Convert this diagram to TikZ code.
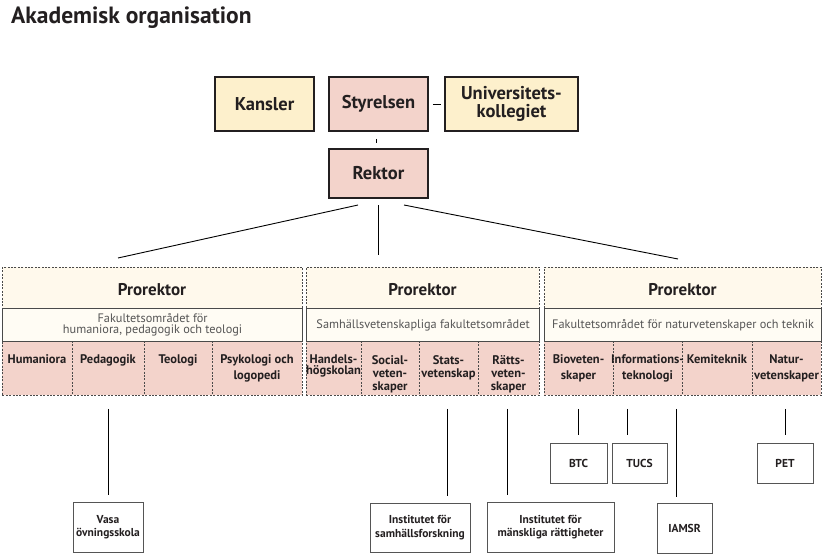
\documentclass[tikz,border=0pt]{standalone}
\usepackage{fontspec}
\setmainfont{PT Sans}
\definecolor{cream}{HTML}{FDF0CC}
\definecolor{rose}{HTML}{F3D3CB}
\definecolor{palecream}{HTML}{FFF9EC}
\definecolor{innerfill}{HTML}{FFFCF4}
\definecolor{dashgray}{HTML}{4A4A4A}
\definecolor{subgray}{HTML}{555555}
\definecolor{inkblack}{HTML}{231F20}
\begin{document}
\begin{tikzpicture}[x=1pt,y=-1pt,
  topbox/.style={draw=inkblack, line width=1.8pt, inner sep=0pt, align=center,
    text=inkblack, font=\fontsize{18.5}{17.5}\selectfont\bfseries},
  secbox/.style={draw=dashgray, line width=0.9pt, dash pattern=on 2pt off 1.4pt, inner sep=0pt, anchor=north west},
  divline/.style={draw=dashgray, line width=0.9pt, dash pattern=on 2pt off 1.4pt},
  innerbox/.style={draw=dashgray, line width=1.2pt, fill=innerfill, inner sep=0pt, anchor=north west,
    align=center, text=subgray, font=\fontsize{12.3}{12}\selectfont},
  pro/.style={font=\fontsize{17}{16}\selectfont\bfseries, text=inkblack},
  celltxt/.style={anchor=north, inner sep=0pt, align=center, text=inkblack},
  cellA/.style={celltxt, font=\fontsize{12.5}{16.5}\selectfont\bfseries},
  cellB/.style={celltxt, font=\fontsize{12.5}{13.3}\selectfont\bfseries},
  cellC/.style={celltxt, font=\fontsize{12.5}{11}\selectfont\bfseries},
  smallbox/.style={draw=subgray, line width=1pt, fill=white, inner sep=0pt, align=center,
    text=inkblack, font=\fontsize{11.5}{13.5}\selectfont\bfseries},
  conn/.style={draw=black, line width=0.9pt},
]
\useasboundingbox (0,0) rectangle (832,556);

% title
\node[anchor=base west, inner sep=0pt, font=\fontsize{23.5}{23.5}\selectfont\bfseries, text=inkblack] (title) at (11,24) {Akademisk organisation};

% top boxes
\node[topbox, fill=cream, minimum width=99pt, minimum height=54pt] (kansler) at (264.5,104) {Kansler};
\node[topbox, fill=rose, minimum width=99pt, minimum height=54pt] (styr) at (378.5,104) {Styrelsen};
\node[topbox, fill=cream, minimum width=133pt, minimum height=54pt] (univ) at (511.5,104) {Universitets-\\kollegiet};
\node[topbox, fill=rose, minimum width=99pt, minimum height=49pt] (rektor) at (378.5,173.5) {Rektor};

\draw[conn, shorten <=4pt, shorten >=3pt] (styr.east) -- (univ.west);
\draw[conn, shorten <=7pt, shorten >=5pt] ([xshift=-2pt]styr.south) -- ([xshift=-2pt]rektor.north);

% section backgrounds
\fill[palecream] (2,267) rectangle (302,308);
\fill[rose] (2,341) rectangle (302,395);
\fill[palecream] (306,267) rectangle (539,308);
\fill[rose] (306,341) rectangle (539,395);
\fill[palecream] (544,267) rectangle (821,308);
\fill[rose] (544,341) rectangle (821,395);

% inner faculty boxes
\node[innerbox, minimum width=300pt, minimum height=33pt] (fak1) at (2,308) {Fakultetsområdet för\\[-1pt]humaniora, pedagogik och teologi};
\node[innerbox, minimum width=233pt, minimum height=33pt] (fak2) at (306,308) {Samhällsvetenskapliga fakultetsområdet};
\node[innerbox, minimum width=277pt, minimum height=33pt] (fak3) at (544,308) {Fakultetsområdet för naturvetenskaper och teknik};

% dashed section outlines
\node[secbox, minimum width=300pt, minimum height=128pt] (sec1) at (2,267) {};
\node[secbox, minimum width=233pt, minimum height=128pt] (sec2) at (306,267) {};
\node[secbox, minimum width=277pt, minimum height=128pt] (sec3) at (544,267) {};

% dividers
\foreach \x in {72,144,212,361,419,478,613,682,752}
  \draw[divline] (\x,341) -- (\x,395);

% prorektor labels
\node[pro] (pro1) at (152,290) {Prorektor};
\node[pro] (pro2) at (422.5,290) {Prorektor};
\node[pro] (pro3) at (682.5,290) {Prorektor};

% cell labels
\node[cellA] (hum) at (37,354) {Humaniora};
\node[cellA] (ped) at (108,354) {Pedagogik};
\node[cellA] (teo) at (178,354) {Teologi};
\node[cellA] (psy) at (257,354) {Psykologi och\\logopedi};
\node[cellC] (han) at (333.5,355) {Handels-\\högskolan};
\node[cellB] (soc) at (390,355) {Social-\\veten-\\skaper};
\node[cellB] (sta) at (448.5,355) {Stats-\\vetenskap};
\node[cellB] (rat) at (508.5,355) {Rätts-\\veten-\\skaper};
\node[cellA] (bio) at (578.5,354) {Bioveten-\\skaper};
\node[cellA] (inf) at (647.5,354) {Informations-\\teknologi};
\node[cellA] (kem) at (717,354) {Kemiteknik};
\node[cellA] (nat) at (786.5,354) {Natur-\\vetenskaper};

% rektor connectors
\coordinate (l1s) at (358,205);
\coordinate (l1e) at (118,258);
\coordinate (l2s) at (378.5,205);
\coordinate (l2e) at (378.5,255);
\coordinate (l3s) at (404,205);
\coordinate (l3e) at (678,259);
\draw[conn] (l1s) -- (l1e);
\draw[conn] (l2s) -- (l2e);
\draw[conn] (l3s) -- (l3e);

% bottom boxes
\node[smallbox, minimum width=70pt, minimum height=50pt] (vasa) at (108,527) {Vasa\\övningsskola};
\node[smallbox, minimum width=100pt, minimum height=49pt] (isf) at (420,527.5) {Institutet för\\samhällsforskning};
\node[smallbox, minimum width=127pt, minimum height=50pt] (imr) at (550.5,527) {Institutet för\\mänskliga rättigheter};
\node[smallbox, minimum width=57pt, minimum height=40pt] (btc) at (578.5,463) {BTC};
\node[smallbox, minimum width=55pt, minimum height=40pt] (tucs) at (639.5,463) {TUCS};
\node[smallbox, minimum width=55pt, minimum height=50pt] (iamsr) at (684.5,528) {IAMSR};
\node[smallbox, minimum width=56pt, minimum height=40pt] (pet) at (785,463) {PET};

% bottom connectors
\draw[conn, shorten <=13pt, shorten >=7pt] (ped.north |- sec1.south) -- (ped.north |- vasa.north);
\draw[conn, shorten <=13pt, shorten >=7pt] ([xshift=-1.5pt]sta.north |- sec2.south) -- ([xshift=-1.5pt]sta.north |- isf.north);
\draw[conn, shorten <=13pt, shorten >=7pt] ([xshift=-1.5pt]rat.north |- sec2.south) -- ([xshift=-1.5pt]rat.north |- imr.north);
\draw[conn, shorten <=13pt, shorten >=8pt] (btc.north |- sec3.south) -- (btc.north);
\draw[conn, shorten <=13pt, shorten >=8pt] ([xshift=-12.5pt]tucs.north |- sec3.south) -- ([xshift=-12.5pt]tucs.north);
\draw[conn, shorten <=13pt, shorten >=6pt] ([xshift=-8.5pt]iamsr.north |- sec3.south) -- ([xshift=-8.5pt]iamsr.north);
\draw[conn, shorten <=13pt, shorten >=8pt] (pet.north |- sec3.south) -- (pet.north);
\end{tikzpicture}
\end{document}
